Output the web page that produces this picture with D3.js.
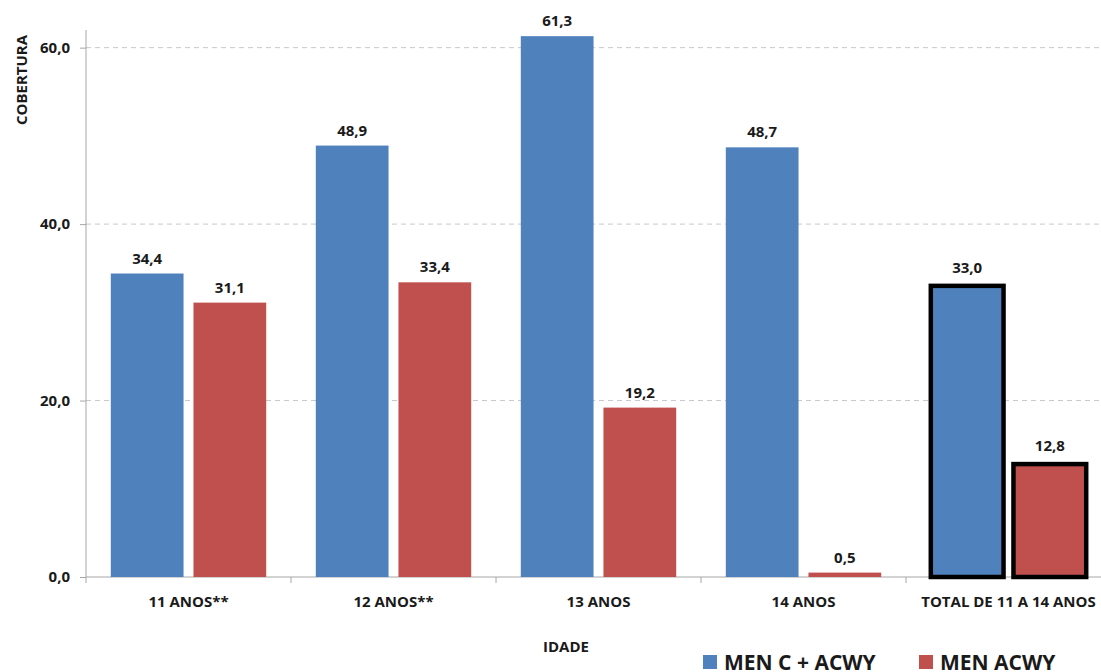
<!DOCTYPE html>
<html lang="pt">
<head>
<meta charset="UTF-8">
<title>Cobertura MEN C + ACWY</title>
<script src="https://d3js.org/d3.v7.min.js"></script>
<style>
  body { margin: 0; background: #fff; }
  svg text { font-family: "Open Sans", "DejaVu Sans", sans-serif; font-weight: bold; fill: #1a1a1a; }
</style>
</head>
<body>
<div id="viz"></div>
<script>
// data
var categories = ["11 ANOS**", "12 ANOS**", "13 ANOS", "14 ANOS", "TOTAL DE 11 A 14 ANOS"];
var series = ["MEN C + ACWY", "MEN ACWY"];
var menC = [34.4, 48.9, 61.3, 48.7, 33.0];
var menAcwy = [31.1, 33.4, 19.2, 0.5, 12.8];
var yTicks = [0, 20, 40, 60];
var colors = ["#4f81bd", "#c0504d"];

var w = 1101, h = 672;
var plotLeft = 86, plotTop = 30, plotBottom = 577, plotRight = 1111;

var svg = d3.select("#viz").append("svg")
    .attr("width", w)
    .attr("height", h);

var y = d3.scaleLinear().domain([0, 62]).range([plotBottom, plotTop]);
var x0 = d3.scaleBand().domain(categories).range([plotLeft, plotRight]).paddingInner(0).paddingOuter(0);
var x1 = d3.scaleBand().domain(series).range([0, x0.bandwidth()]).paddingInner(0.12).paddingOuter(0.3);

var fmt = function(v){ return d3.format(".1f")(v).replace(".", ","); };

// gridlines
svg.append("g").selectAll("line")
    .data(yTicks.filter(function(d){ return d > 0; }))
    .enter().append("line")
    .attr("x1", plotLeft).attr("x2", w)
    .attr("y1", function(d){ return y(d); })
    .attr("y2", function(d){ return y(d); })
    .attr("stroke", "#c8c8c8")
    .attr("stroke-width", 1)
    .attr("stroke-dasharray", "5,4");

// y axis
var yAxis = svg.append("g")
    .attr("transform", "translate(" + plotLeft + ",0)")
    .call(d3.axisLeft(y).tickValues(yTicks).tickFormat(fmt).tickSize(6).tickPadding(10));
yAxis.select(".domain").attr("stroke", "#a6a6a6").attr("d", "M0," + plotTop + "V" + plotBottom);
yAxis.selectAll(".tick line").attr("stroke", "#a6a6a6");
yAxis.selectAll("text").style("font-size", "15px");

// x axis
var xAxis = svg.append("g")
    .attr("transform", "translate(0," + plotBottom + ")")
    .call(d3.axisBottom(x0).tickSize(0).tickPadding(19));
xAxis.select(".domain").attr("stroke", "#a6a6a6").attr("d", "M" + plotLeft + ",0H" + w);
xAxis.selectAll("text").style("font-size", "15px");
// category boundary ticks
svg.append("g").selectAll("line")
    .data(categories)
    .enter().append("line")
    .attr("x1", function(d){ return x0(d); })
    .attr("x2", function(d){ return x0(d); })
    .attr("y1", plotBottom).attr("y2", plotBottom + 6)
    .attr("stroke", "#a6a6a6");

// bars
var rows = categories.map(function(c, i){
    return { cat: c, total: i === categories.length - 1, vals: [menC[i], menAcwy[i]] };
});

var groups = svg.append("g").selectAll("g")
    .data(rows)
    .enter().append("g")
    .attr("transform", function(d){ return "translate(" + x0(d.cat) + ",0)"; });

groups.selectAll("rect")
    .data(function(d){ return d.vals.map(function(v, j){ return { s: series[j], v: v, j: j, total: d.total }; }); })
    .enter().append("rect")
    .attr("x", function(d){ return x1(d.s); })
    .attr("width", x1.bandwidth())
    .attr("y", function(d){ return y(d.v); })
    .attr("height", function(d){ return plotBottom - y(d.v); })
    .attr("fill", function(d){ return colors[d.j]; })
    .attr("stroke", function(d){ return d.total ? "#000" : "none"; })
    .attr("stroke-width", function(d){ return d.total ? 4.5 : 0; });

groups.selectAll("text")
    .data(function(d){ return d.vals.map(function(v, j){ return { s: series[j], v: v, total: d.total }; }); })
    .enter().append("text")
    .attr("x", function(d){ return x1(d.s) + x1.bandwidth() / 2; })
    .attr("y", function(d){ return y(d.v) - (d.total ? 13 : 10); })
    .attr("text-anchor", "middle")
    .style("font-size", "15px")
    .text(function(d){ return fmt(d.v); });

// axis titles
svg.append("text")
    .attr("transform", "translate(27,80) rotate(-90)")
    .attr("text-anchor", "middle")
    .style("font-size", "15px")
    .text("COBERTURA");

svg.append("text")
    .attr("x", 566).attr("y", 652)
    .attr("text-anchor", "middle")
    .style("font-size", "15px")
    .text("IDADE");

// legend
var legendX = [703, 919];
var legend = svg.append("g").selectAll("g")
    .data(series)
    .enter().append("g")
    .attr("transform", function(d, i){ return "translate(" + legendX[i] + ",655)"; });
legend.append("rect")
    .attr("width", 14).attr("height", 14)
    .attr("fill", function(d, i){ return colors[i]; });
legend.append("text")
    .attr("x", 21).attr("y", 15)
    .style("font-size", "21px")
    .text(function(d){ return d; });
</script>
</body>
</html>
